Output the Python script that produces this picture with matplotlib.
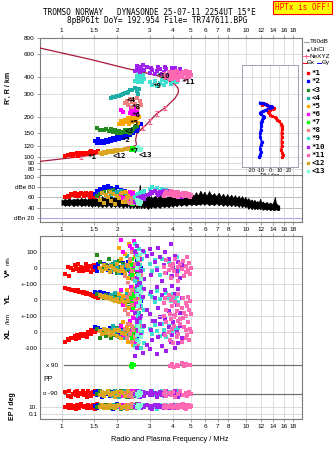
import matplotlib
matplotlib.use("Agg")
import matplotlib.pyplot as plt
from matplotlib.lines import Line2D

W, H = 335, 451

freq_ticks = [1, 1.5, 2, 3, 4, 5, 6, 7, 8, 10, 12, 14, 16, 18]
freq_labels = ['1', '1.5', '2', '3', '4', '5', '6', '7', '8', '10', '12', '14', '16', '18']
height_ticks = [80, 90, 100, 120, 150, 200, 300, 400, 600, 800]

group_names = ['*1', '*2', '<3', '<4', '*5', '*6', '*7', '*8', '*9', '*10', '*11', '<12', '<13']
group_colors = ['#ff0000', '#0000ff', '#228b22', '#1aaea6', '#ffa500', '#ff00ff', '#00ff00',
                '#f08080', '#40e0d0', '#a020f0', '#ff69b4', '#daa520', '#7fffd4']
# where each trace name is written on the R' panel (MHz, km)
label_f = [1.38, 2.11, 2.20, 2.25, 2.34, 2.39, 2.34, 2.39, 3.10, 3.27, 4.46, 1.90, 2.62]
label_R = [100, 134, 156, 269, 181, 208, 110, 237, 343, 408, 371, 101, 103]

# echo records: (freq MHz, R' km, amplitude dB, V* m/s, YL km, XL km, PP deg, EP deg)
echoes_1 = [
    (1.05, 101, 60, -35, 75, -60, -78, 9), (1.08, 103, 63, 10, 68, -45, -102, 25),
    (1.10, 103, 61, -50, 72, -50, -70, 4), (1.13, 104, 66, 5, 62, -35, -108, 40),
    (1.16, 102, 64, -10, 65, -40, -90, 6), (1.18, 105, 68, 20, 58, -25, -82, 15),
    (1.20, 104, 62, 0, 60, -45, -98, 3), (1.22, 106, 67, -5, 55, -20, -74, 30),
    (1.23, 102, 65, 25, 63, -30, -105, 10), (1.25, 104, 63, -15, 50, -35, -86, 5),
    (1.27, 107, 69, 10, 52, -15, -94, 50), (1.30, 105, 66, -20, 45, -25, -72, 12),
    (1.32, 106, 62, 5, 48, -10, -100, 8), (1.35, 104, 68, 30, 40, -20, -84, 20),
    (1.37, 107, 64, -8, 44, -30, -110, 4), (1.40, 106, 67, 0, 35, 0, -76, 35),
    (1.42, 108, 60, 15, 38, -5, -96, 9), (1.44, 110, 65, -25, 30, 10, -88, 18),
    (1.45, 105, 69, 8, 33, -15, -104, 6), (1.48, 107, 63, -3, 25, 5, -80, 28),
    (1.50, 106, 66, 20, 28, 15, -92, 11), (1.52, 109, 61, -12, 20, 0, -70, 3),
    (1.55, 108, 64, 2, 22, 20, -99, 45), (1.58, 110, 62, 6, 15, 10, -85, 14),
]
echoes_2 = [
    (1.52, 132, 66, 10, 50, 30, -82, 12), (1.55, 127, 72, -15, 45, 20, -101, 5),
    (1.58, 135, 70, 25, 40, 25, -75, 30), (1.62, 128, 76, 0, 48, 10, -96, 8),
    (1.66, 131, 74, -20, 35, 15, -109, 20), (1.70, 126, 80, 30, 42, 20, -86, 4),
    (1.74, 133, 78, 5, 30, 5, -93, 40), (1.78, 129, 82, -10, 38, 12, -71, 10),
    (1.82, 136, 75, 15, 25, 25, -104, 6), (1.86, 131, 79, -25, 33, -5, -88, 25),
    (1.90, 138, 73, 0, 20, 8, -79, 3), (1.95, 134, 77, 20, 28, 15, -98, 15),
    (2.00, 140, 81, -5, 15, 0, -90, 50), (2.05, 136, 70, 10, 22, -10, -107, 9),
    (2.10, 143, 74, -30, 10, 10, -73, 18), (2.15, 139, 68, 35, 18, -5, -95, 5),
    (2.20, 146, 72, -10, 5, 5, -84, 35), (2.25, 142, 66, 5, 12, -15, -102, 7),
    (2.30, 150, 64, 40, 0, 0, -77, 22), (2.35, 146, 70, -15, 8, 10, -111, 4),
    (2.40, 155, 62, 20, -5, -20, -87, 12), (2.45, 150, 67, -40, 3, -5, -97, 30),
    (2.50, 160, 60, 10, -10, 5, -74, 6), (2.55, 156, 65, 50, -2, -10, -105, 16),
    (2.60, 166, 58, -20, -15, -25, -91, 9), (2.68, 176, 63, 0, -8, 0, -81, 27),
]
echoes_3 = [
    (1.55, 165, 62, 85, 35, 20, -94, 8), (1.62, 160, 66, 40, 25, -40, -76, 22),
    (1.70, 158, 70, -5, 15, 10, -103, 5), (1.75, 163, 64, 20, 30, -25, -85, 35),
    (1.80, 156, 72, 60, 10, 15, -72, 11), (1.85, 161, 68, -15, 20, -35, -99, 4),
    (1.90, 154, 74, 30, 5, 0, -89, 18), (1.95, 159, 66, 10, 18, -20, -108, 7),
    (2.00, 152, 70, -30, 0, 25, -80, 40), (2.05, 157, 63, 45, 12, -30, -95, 10),
    (2.10, 150, 71, 0, -5, 5, -73, 3), (2.15, 155, 65, 25, 8, -15, -101, 25),
    (2.20, 160, 68, -45, -10, -40, -87, 6), (2.25, 153, 62, 15, 3, 10, -110, 14),
    (2.30, 158, 66, -10, -15, -20, -78, 30), (2.35, 152, 60, 35, -2, 0, -97, 9),
    (2.40, 157, 64, -60, -20, -30, -84, 5), (2.45, 162, 58, 5, -8, 15, -104, 20),
    (2.50, 167, 62, 20, -25, -10, -71, 12), (2.55, 172, 56, -25, -12, -5, -92, 45),
]
echoes_4 = [
    (1.85, 278, 64, 20, 30, 10, -86, 10), (1.90, 285, 68, -10, 10, 35, -103, 28),
    (1.95, 282, 66, 40, 45, -15, -75, 5), (2.00, 290, 70, 5, -5, 20, -96, 15),
    (2.05, 287, 67, -30, 20, -30, -109, 8), (2.10, 295, 72, 60, 55, 45, -82, 38),
    (2.15, 298, 69, 15, 0, 5, -93, 4), (2.20, 305, 71, -20, -25, -40, -72, 20),
    (2.25, 302, 68, 80, 35, 25, -100, 11), (2.30, 310, 66, 0, -45, -10, -88, 6),
    (2.35, 318, 63, -50, 15, 60, -106, 32), (2.40, 322, 65, 30, -60, -55, -79, 9),
    (2.50, 330, 60, 110, 70, 15, -95, 17), (2.55, 315, 62, -70, -20, -75, -70, 4),
    (2.60, 300, 58, 45, 50, 40, -101, 26), (2.62, 325, 61, -5, -80, -20, -90, 7),
]
echoes_5 = [
    (2.05, 178, 58, 130, 40, 15, -98, 14), (2.10, 185, 66, 60, -10, -40, -77, 6),
    (2.15, 176, 52, -20, 25, 60, -107, 33), (2.20, 190, 70, 90, -30, -10, -85, 9),
    (2.25, 182, 61, 20, 60, 30, -94, 3), (2.30, 195, 55, -60, 5, -60, -72, 22),
    (2.32, 178, 68, 150, -50, 5, -103, 12), (2.35, 188, 50, 40, 30, 45, -89, 5),
    (2.40, 200, 64, -10, -20, -25, -110, 40), (2.42, 183, 59, 110, 80, 10, -81, 8),
    (2.45, 192, 71, -40, 10, -80, -96, 18), (2.50, 205, 53, 70, -40, 25, -74, 4),
    (2.52, 186, 62, 0, 55, -50, -100, 27), (2.55, 196, 57, -80, -70, 35, -87, 10),
    (2.60, 180, 49, 30, 20, -15, -105, 6), (2.62, 200, 60, 85, -5, 50, -79, 15),
]
echoes_6 = [
    (2.10, 225, 62, 180, 60, 40, -91, 7), (2.15, 218, 58, 100, -30, -20, -104, 24),
    (2.35, 215, 70, 140, 20, 70, -76, 12), (2.38, 230, 55, -30, 80, 10, -98, 4),
    (2.40, 222, 66, 60, -60, -50, -84, 36), (2.42, 238, 60, 120, 35, 25, -108, 9),
    (2.45, 210, 68, 10, -10, 90, -71, 16), (2.48, 228, 52, 170, 50, -30, -95, 5),
    (2.50, 218, 64, -60, -40, 15, -86, 28), (2.52, 235, 57, 90, 10, -70, -101, 11),
    (2.55, 212, 62, 30, 90, 50, -80, 6), (2.58, 225, 55, -10, -20, 0, -93, 20),
]
echoes_7 = [
    (2.38, 113, 50, 20, 10, -10, 84, 10), (2.40, 117, 48, -40, -20, 30, 96, 22),
    (2.42, 115, 52, 60, 40, -40, 79, 6), (2.45, 112, 47, -10, -50, 20, 92, 14),
    (2.47, 114, 51, 30, 25, 5, 88, 8),
]
echoes_8 = [
    (2.20, 255, 56, -50, -60, 20, -87, 9), (2.25, 265, 52, 20, 20, -40, -106, 30),
    (2.30, 245, 60, -90, -90, 50, -74, 5), (2.35, 275, 49, 60, 40, -10, -97, 14),
    (2.40, 258, 58, -20, -30, 35, -83, 42), (2.42, 240, 54, 100, 60, -60, -109, 7),
    (2.45, 268, 50, -70, -110, 10, -92, 19), (2.50, 250, 57, 30, 0, -30, -78, 4),
    (2.55, 278, 53, -110, -70, 65, -102, 25), (2.60, 235, 48, 0, 30, -80, -88, 11),
    (2.65, 262, 55, 50, -50, 0, -73, 6), (2.68, 245, 51, -40, 10, 40, -99, 33),
]
echoes_9 = [
    (2.50, 375, 60, 150, 120, -90, -95, 12), (2.55, 395, 64, -90, -80, 40, -78, 5),
    (2.58, 410, 58, 80, 60, -50, -104, 28), (2.60, 365, 66, -40, -110, 100, -86, 8),
    (2.62, 425, 62, 120, 30, -20, -110, 40), (2.65, 385, 68, 20, 90, 60, -72, 15),
    (2.68, 400, 56, -120, -40, -100, -99, 4), (2.72, 370, 70, 60, 10, 0, -88, 22),
    (2.75, 415, 65, -10, 70, 30, -107, 9), (2.80, 390, 72, 100, -60, -70, -80, 33),
    (3.00, 365, 76, 30, 40, 20, -93, 6), (3.10, 352, 80, -20, 20, -10, -75, 18),
    (3.20, 372, 74, 50, -10, 45, -101, 10), (3.30, 345, 78, 0, 55, 5, -85, 3),
    (3.40, 360, 72, -40, 5, -25, -96, 26), (3.50, 380, 77, 60, 30, 50, -71, 12),
    (3.60, 350, 70, 10, -20, 15, -105, 7), (3.70, 368, 75, -30, 45, -30, -90, 38),
    (3.80, 385, 68, 40, 15, 35, -79, 5), (3.90, 358, 73, -50, -5, -5, -98, 16),
    (4.00, 375, 66, 20, 35, 55, -84, 9), (4.10, 390, 70, -10, 0, 10, -108, 24),
    (4.20, 365, 64, 70, 25, -20, -76, 4), (4.30, 395, 67, -20, -15, 25, -94, 14),
]
echoes_10 = [
    (2.50, 445, 52, 100, -80, -150, -89, 8), (2.55, 470, 56, -60, 90, 60, -103, 26),
    (2.58, 490, 50, 140, -120, -100, -74, 4), (2.60, 455, 58, 30, 40, 20, -97, 15),
    (2.62, 480, 54, -100, -40, -60, -82, 45), (2.66, 440, 60, 60, 110, 90, -110, 9),
    (2.70, 465, 55, -20, -100, -20, -91, 5), (2.75, 495, 62, 110, 20, -130, -77, 20),
    (2.80, 450, 57, -70, 70, 40, -104, 11), (2.90, 475, 64, 80, -60, -80, -86, 30),
    (3.00, 430, 66, 120, -90, -110, -95, 6), (3.05, 470, 70, -40, 50, 10, -72, 14),
    (3.10, 455, 68, 90, -130, -50, -100, 3), (3.20, 420, 72, 40, 10, 70, -84, 24),
    (3.30, 445, 69, -10, 80, -140, -108, 10), (3.35, 480, 65, 130, -50, -30, -93, 40),
    (3.40, 465, 71, 70, -110, 50, -79, 7), (3.50, 425, 67, -80, 30, -90, -98, 17),
    (3.60, 440, 73, 20, -20, -10, -88, 5), (3.65, 475, 70, 100, 60, 80, -106, 28),
    (3.70, 460, 68, -30, -140, -120, -75, 12), (3.80, 415, 72, 60, -70, 30, -94, 4),
    (3.90, 435, 66, 150, 0, -60, -83, 20), (3.95, 470, 69, -50, 90, -20, -101, 8),
    (4.00, 452, 71, 10, -100, 60, -90, 35), (4.10, 470, 64, 80, 40, -100, -73, 6),
    (4.20, 428, 67, -20, -30, 0, -96, 13), (4.30, 445, 62, 40, 70, -70, -109, 4),
    (4.40, 460, 65, -60, -80, 40, -85, 22), (4.50, 420, 60, 20, 10, -40, -99, 9),
]
echoes_11 = [
    (3.60, 420, 62, 10, -20, 100, -92, 9), (3.65, 400, 66, -30, 10, -20, -76, 25),
    (3.70, 405, 70, 50, -60, 60, -104, 5), (3.80, 435, 64, -10, 30, 0, -87, 15),
    (3.85, 390, 68, 20, -90, -50, 84, 8), (3.90, 412, 72, -60, 0, 80, -99, 36),
    (3.95, 385, 65, 0, -40, 20, 97, 11), (4.00, 440, 69, 30, 20, -70, -81, 4),
    (4.05, 395, 63, -20, -110, 40, 80, 20), (4.10, 425, 71, 60, -10, 110, -108, 7),
    (4.20, 448, 67, -40, -70, -30, 93, 13), (4.25, 380, 61, 10, 40, 70, -90, 30),
    (4.30, 410, 70, -80, -30, -10, 86, 5), (4.40, 432, 66, 25, -120, 50, -73, 18),
    (4.50, 400, 64, -5, -50, -60, 100, 9), (4.55, 438, 68, 45, 10, 90, -96, 42),
    (4.60, 420, 62, -50, -80, 30, 82, 6), (4.70, 445, 69, 15, -20, -40, -85, 14),
    (4.75, 390, 65, -25, -100, 10, 95, 3), (4.80, 415, 67, 70, -40, -20, -102, 22),
    (4.85, 430, 63, -10, 20, 60, 89, 10), (4.90, 405, 66, 35, -60, -50, -78, 27),
    (4.95, 440, 61, -35, -5, 20, 91, 7), (5.00, 418, 64, 5, -90, 0, -94, 16),
]
echoes_12 = [
    (1.62, 106, 56, 5, 30, 5, -97, 10), (1.66, 104, 68, -15, 20, -15, -80, 24),
    (1.70, 108, 50, 20, 25, 20, -106, 6), (1.74, 106, 64, -5, 10, -5, -88, 15),
    (1.78, 110, 60, 10, 18, 10, -74, 4), (1.82, 108, 71, -25, 5, -20, -101, 32),
    (1.86, 111, 54, 15, 12, 0, -92, 8), (1.90, 109, 66, 0, 0, -10, -83, 18),
    (1.95, 112, 48, -10, -5, 15, -109, 5), (2.00, 110, 62, 25, 8, -25, -77, 12),
    (2.05, 113, 58, -20, -10, 5, -95, 40), (2.12, 112, 69, 8, -2, -5, -86, 7),
    (2.20, 115, 52, -30, -15, -15, -103, 20), (2.28, 114, 60, 12, -8, 10, -72, 9),
]
echoes_13 = [
    (2.58, 112, 56, 0, 30, -20, -90, 10), (2.60, 118, 50, 60, -40, 40, -105, 25),
    (2.62, 115, 53, -40, 70, -60, -78, 5), (2.66, 113, 48, 90, -10, 10, -97, 14),
    (2.70, 114, 52, -70, 50, -30, -84, 30),
]
echo_groups = [echoes_1, echoes_2, echoes_3, echoes_4, echoes_5, echoes_6, echoes_7,
               echoes_8, echoes_9, echoes_10, echoes_11, echoes_12, echoes_13]

# true-height profile R(fp), bottomside -> peak -> topside
profile_f = [0.76, 1.27, 1.50, 2.00, 2.40, 2.55, 2.52, 2.56, 2.75, 2.88, 3.27, 3.70, 3.86,
             4.12, 4.28, 4.30, 4.28, 4.12, 3.86, 3.55, 3.40, 3.00, 2.20, 1.45, 0.76]
profile_R = [92, 100, 104, 112, 119, 122, 134, 150, 165, 175, 211, 239, 254,
             277, 303, 317, 331, 351, 372, 394, 406, 425, 470, 544, 667]
err_f = [1.27, 2.30, 2.75, 3.00, 3.30, 3.65]
err_R = [100, 117, 165, 185, 213, 235]
err_dR = [4, 4, 6, 7, 8, 9]

# tilt profiles (deg) against true height
tilt_x_R = [256, 252, 248, 244, 240, 236, 232, 226, 220, 214, 208, 203, 199, 195,
            190, 185, 178, 170, 162, 150, 140, 130, 120, 112, 106, 102, 99]
tilt_x = [-8, -4, -9, -2, 2, 4, 3, 0, -2, -1, 0, 2, 5, 7,
          8, 10, 12, 12.5, 13, 12.5, 12.8, 12.5, 12.8, 12, 13.5, 14.5, 13]
tilt_y_R = [258, 254, 250, 246, 242, 238, 234, 228, 222, 216, 210, 205, 200,
            195, 188, 180, 170, 160, 150, 140, 130, 122, 115, 108, 103, 100]
tilt_y = [-11, -8, -5, -3, 1, 2, 0, -4, -8, -11, -10, -8, -6,
          -8, -9, -10, -9.5, -10, -11, -10.5, -9, -10, -11, -10, -11, -11.5]

# background amplitude: (freq MHz, low dB, high dB)
noise = [
    (1.00, 45, 56), (1.02, 47, 54), (1.04, 44, 57), (1.07, 46, 55), (1.10, 44, 58),
    (1.13, 47, 55), (1.16, 43, 57), (1.19, 46, 56), (1.22, 44, 58), (1.25, 47, 55),
    (1.28, 43, 59), (1.31, 46, 56), (1.34, 44, 58), (1.37, 47, 55), (1.40, 43, 58),
    (1.43, 46, 57), (1.46, 42, 60), (1.49, 45, 63), (1.52, 43, 58), (1.55, 46, 56),
    (1.58, 42, 60), (1.62, 45, 57), (1.66, 41, 62), (1.70, 45, 58), (1.75, 42, 61),
    (1.80, 46, 57), (1.85, 41, 63), (1.90, 45, 58), (1.95, 42, 62), (2.00, 45, 59),
    (2.05, 41, 64), (2.10, 45, 58), (2.15, 40, 65), (2.20, 44, 59), (2.25, 41, 63),
    (2.30, 45, 60), (2.35, 39, 66), (2.40, 44, 60), (2.45, 40, 64), (2.50, 44, 59),
    (2.55, 39, 67), (2.60, 43, 61), (2.63, 40, 65), (2.65, 52, 84), (2.67, 43, 63),
    (2.70, 39, 61), (2.75, 43, 58), (2.80, 39, 64), (2.85, 43, 58), (2.90, 40, 61),
    (2.95, 38, 68), (3.00, 42, 59), (3.05, 39, 62), (3.10, 43, 58), (3.20, 40, 63),
    (3.30, 43, 58), (3.40, 40, 65), (3.50, 44, 59), (3.60, 41, 64), (3.70, 44, 58),
    (3.80, 41, 66), (3.90, 45, 60), (4.00, 42, 64), (4.10, 46, 59), (4.20, 43, 67),
    (4.30, 47, 61), (4.45, 44, 66), (4.60, 47, 60), (4.75, 44, 67), (4.90, 48, 62),
    (5.05, 45, 68), (5.20, 48, 63), (5.35, 45, 70), (5.50, 48, 64), (5.65, 46, 73),
    (5.80, 49, 65), (5.95, 46, 71), (6.10, 49, 63), (6.30, 45, 72), (6.50, 48, 64),
    (6.70, 45, 68), (6.90, 49, 62), (7.10, 45, 69), (7.30, 48, 61), (7.50, 44, 67),
    (7.70, 47, 60), (7.90, 44, 66), (8.10, 47, 60), (8.30, 43, 65), (8.50, 47, 59),
    (8.70, 43, 64), (8.90, 46, 58), (9.10, 42, 63), (9.30, 46, 57), (9.50, 41, 62),
    (9.70, 45, 56), (9.90, 41, 61), (10.1, 43, 55), (10.3, 38, 58), (10.5, 42, 53),
    (10.7, 37, 56), (10.9, 41, 51), (11.1, 37, 55), (11.3, 40, 50), (11.5, 37, 53),
    (11.7, 40, 49), (11.9, 37, 57), (12.1, 39, 49), (12.3, 36, 52), (12.6, 38, 48),
    (12.9, 36, 51), (13.2, 38, 47), (13.5, 35, 50), (13.8, 37, 46), (14.1, 35, 52),
    (14.3, 36, 60), (14.5, 37, 49), (14.8, 35, 45), (15.1, 36, 44),
]
noise_f = [n[0] for n in noise]
noise_lo = [n[1] for n in noise]
noise_hi = [n[2] for n in noise]

GRID = '#d6d6d6'
FRAME = '#7a7a7a'
SANS = 'Liberation Sans'
MONO = 'DejaVu Sans Mono'
PROFILE = '#a8183c'
NEXYZ = '#ff5c8a'

fig = plt.figure(figsize=(W / 100, H / 100), dpi=100)


def px_box(l, t, r, b):
    return [l / W, 1 - b / H, (r - l) / W, (b - t) / H]


def fx(x):
    return x / W


def fy(y):
    return 1 - y / H


def freq_axis(ax, show_labels, top=False):
    ax.set_xscale('log')
    ax.set_xlim(0.76, 20)
    ax.set_xticks(freq_ticks, freq_labels if show_labels else [''] * len(freq_ticks))
    ax.minorticks_off()
    if top:
        ax.xaxis.tick_top()
    ax.tick_params(axis='both', length=2, width=0.5, color=FRAME, labelsize=4.6, pad=1.5)
    for lab in ax.get_xticklabels() + ax.get_yticklabels():
        lab.set_family(SANS)
    ax.grid(True, axis='x', color=GRID, lw=0.6)
    ax.set_axisbelow(True)
    for s in ax.spines.values():
        s.set_color(FRAME)
        s.set_linewidth(0.8)


def set_yticks(ax, ticks, labels):
    ax.set_yticks(ticks, labels)
    ax.minorticks_off()
    for lab in ax.get_yticklabels():
        lab.set_family(SANS)
        lab.set_fontsize(4.6)


# ---- virtual range panel ----
ax_r = fig.add_axes(px_box(39.5, 37.5, 301.7, 175.5))
ax_r.set_yscale('log')
ax_r.set_ylim(72, 800)
freq_axis(ax_r, True, top=True)
set_yticks(ax_r, height_ticks, [str(h) for h in height_ticks])
ax_r.grid(True, axis='y', color=GRID, lw=0.6)

ax_r.plot(profile_f, profile_R, color=PROFILE, lw=0.9, zorder=3)
ax_r.errorbar(err_f, err_R, yerr=err_dR, fmt='none', ecolor=NEXYZ, elinewidth=0.8,
              capsize=1.2, capthick=0.8, zorder=4)
for grp, col in zip(echo_groups, group_colors):
    ax_r.scatter([e[0] for e in grp], [e[1] for e in grp], s=5, marker='s', c=col,
                 linewidths=0, zorder=5)
for name, lf, lr in zip(group_names, label_f, label_R):
    ax_r.text(lf, lr, name, fontsize=5.4, family=MONO, fontweight='bold',
              ha='left', va='center', zorder=6)

# ---- tilt inset ----
ax_t = fig.add_axes(px_box(242.4, 65, 297.6, 166.5))
ax_t.set_xlim(-30, 30)
ax_t.set_yscale('log')
ax_t.set_ylim(84, 498)
ax_t.set_xticks([-20, -10, 0, 10, 20], ['-20', '-10', '0', '10', '20'])
ax_t.set_yticks([100, 120, 150, 200, 300, 400], [])
ax_t.minorticks_off()
ax_t.tick_params(length=0, labelsize=3.6, pad=0.8)
ax_t.grid(True, color=GRID, lw=0.6)
ax_t.set_axisbelow(True)
ax_t.set_xlabel('Tilt / deg', fontsize=3.6, labelpad=0.3, family=SANS)
for s in ax_t.spines.values():
    s.set_color('#a0a0b0')
    s.set_linewidth(0.7)
ax_t.plot(tilt_x, tilt_x_R, color='red', lw=1.4, marker='s', ms=1.3)
ax_t.plot(tilt_y, tilt_y_R, color='blue', lw=1.4, marker='s', ms=1.3)

# ---- amplitude panel ----
ax_a = fig.add_axes(px_box(39.5, 175.5, 301.7, 221.7))
ax_a.set_ylim(12, 103.6)
freq_axis(ax_a, True)
set_yticks(ax_a, [20, 40, 60, 80, 100], ['dBn 20', '40', '60', 'dBe 80', '100'])
for lvl in [40, 60, 80]:
    ax_a.axhline(lvl, color='#b0b0b0', lw=0.6, zorder=0)
ax_a.axhline(20, color='#a8a8f0', lw=0.8, zorder=0)
ax_a.fill_between(noise_f, noise_lo, noise_hi, color='black', lw=0.6, zorder=2)
ax_a.vlines(noise_f, noise_lo, noise_hi, color='black', lw=0.8, zorder=2)
for grp, col in zip(echo_groups, group_colors):
    ax_a.scatter([e[0] for e in grp], [e[2] for e in grp], s=5, marker='s', c=col,
                 linewidths=0, zorder=3)

# ---- velocity / location / polarisation panels ----
lower = [
    ('vs', 236, 284, (-98.7, 203), [100, 0], ['100', '0'], 3),
    ('yl', 284, 316, (-100.6, 100.6), [100, 0], ['+-100', '0'], 4),
    ('xl', 316, 358, (-163.5, 100.6), [100, 0, -100], ['+-100', '0', '-100'], 5),
    ('pp', 358, 400, (-129.5, 134), [], [], 6),
    ('ep', 400, 419, (0.0043, 683), [10, 0.1], ['10.', '0.1'], 7),
]
lower_axes = {}
for key, top, bot, ylim, ticks, labs, col_idx in lower:
    ax = fig.add_axes(px_box(39.5, top, 301.7, bot))
    freq_axis(ax, key == 'ep')
    if key == 'ep':
        ax.set_yscale('log')
    ax.set_ylim(*ylim)
    set_yticks(ax, ticks, labs)
    ax.tick_params(axis='y', length=0)
    ax.tick_params(axis='x', which='both', top=(key == 'vs'), bottom=(key == 'ep'))
    if key != 'vs':
        ax.spines['top'].set_visible(False)
    if key != 'ep':
        ax.spines['bottom'].set_visible(False)
    for t in ticks:
        ax.axhline(t, color=GRID, lw=0.6, zorder=0)
    ax.patch.set_alpha(0)
    for grp, col in zip(echo_groups, group_colors):
        ax.scatter([e[0] for e in grp], [e[col_idx] for e in grp], s=5, marker='s',
                   c=col, linewidths=0, zorder=3, clip_on=(key == 'ep'))
    lower_axes[key] = ax

ax_pp = lower_axes['pp']
line_start = (64 - 39.5) / (301.7 - 39.5)
ax_pp.axhline(90, xmin=line_start, color='#707070', lw=0.9, zorder=1)
ax_pp.axhline(-90, xmin=line_start, color='#707070', lw=0.9, zorder=1)
ax_pp.text(0.025, 90, 'x 90', transform=ax_pp.get_yaxis_transform(), fontsize=4.6,
           family=SANS, va='center', ha='left')
ax_pp.text(0.013, -90, 'o -90', transform=ax_pp.get_yaxis_transform(), fontsize=4.6,
           family=SANS, va='center', ha='left')
ax_pp.text(0.013, 0, 'PP', transform=ax_pp.get_yaxis_transform(), fontsize=5,
           family=SANS, va='center', ha='left')

# ---- axis titles ----
fig.text(fx(8), fy(88), "R', R / km", rotation=90, fontsize=5, fontweight='bold',
         family=SANS, ha='center', va='center')
fig.text(fx(8.5), fy(273), 'V*', rotation=90, fontsize=6, fontweight='bold',
         family=SANS, ha='center', va='center')
fig.text(fx(8.5), fy(261), 'm/s', rotation=90, fontsize=4, family=SANS,
         ha='center', va='center')
fig.text(fx(8.5), fy(299), 'YL', rotation=90, fontsize=6, fontweight='bold',
         family=SANS, ha='center', va='center')
fig.text(fx(8.5), fy(319), '/km', rotation=90, fontsize=4.5, family=SANS,
         ha='center', va='center')
fig.text(fx(8.5), fy(334), 'XL', rotation=90, fontsize=6, fontweight='bold',
         family=SANS, ha='center', va='center')
fig.text(fx(12), fy(406), 'EP / deg', rotation=90, fontsize=5, fontweight='bold',
         family=SANS, ha='center', va='center')
fig.text(fx(170), fy(439.5), 'Radio and Plasma Frequency / MHz', fontsize=5.3,
         family=SANS, ha='center', va='center')

# ---- header ----
fig.text(fx(149), fy(12.3), 'TROMSO NORWAY   DYNASONDE 25-07-11 2254UT 15\u00b0E',
         fontsize=5.6, family=MONO, ha='center', va='center')
fig.text(fx(157.5), fy(20.3), '8pBP6It DoY= 192.954 File= TR747611.BPG',
         fontsize=5.6, family=MONO, ha='center', va='center')
fig.text(fx(302.3), fy(7.2), 'HPTx is OFF!', fontsize=5.5, family=MONO, color='red',
         ha='center', va='center',
         bbox=dict(boxstyle='square,pad=0.25', fc='yellow', ec='red', lw=0.8))


# ---- key ----
def key_line(x0, x1, y, **kw):
    fig.add_artist(Line2D([fx(x0), fx(x1)], [fy(y), fy(y)], transform=fig.transFigure, **kw))


key_line(303.5, 308.5, 41.7, color='#a0a0a0', lw=0.8)
fig.text(fx(309.5), fy(41.7), 'T60dB', fontsize=4.6, family=SANS, va='center')
fig.add_artist(Line2D([fx(307.5)], [fy(49.5)], transform=fig.transFigure, marker='.',
                      ms=1.5, color='black', ls='none'))
fig.text(fx(310.5), fy(49.5), 'UnCl', fontsize=4.6, family=SANS, va='center')
key_line(302.5, 309, 56, color=NEXYZ, lw=0.6)
fig.add_artist(Line2D([fx(305.8)], [fy(56)], transform=fig.transFigure, marker='+',
                      ms=3, mew=0.7, color=NEXYZ, ls='none'))
fig.text(fx(309.5), fy(56), 'NeXYZ', fontsize=4.6, family=SANS, va='center')
key_line(302.5, 306.5, 62.5, color='red', lw=0.7)
fig.text(fx(306.8), fy(62.5), '\u0398x', fontsize=4.6, family=SANS, va='center')
key_line(316.5, 321, 62.5, color='blue', lw=0.7)
fig.text(fx(321.3), fy(62.5), '\u0398y', fontsize=4.6, family=SANS, va='center')
for i, (name, col) in enumerate(zip(group_names, group_colors)):
    yk = 73.3 + i * 8.14
    fig.add_artist(Line2D([fx(307.5)], [fy(yk)], transform=fig.transFigure, marker='s',
                          ms=2, color=col, ls='none'))
    fig.text(fx(311.5), fy(yk), name, fontsize=5.3, family=MONO, fontweight='bold',
             va='center')

fig.savefig('out.png', dpi=100)
